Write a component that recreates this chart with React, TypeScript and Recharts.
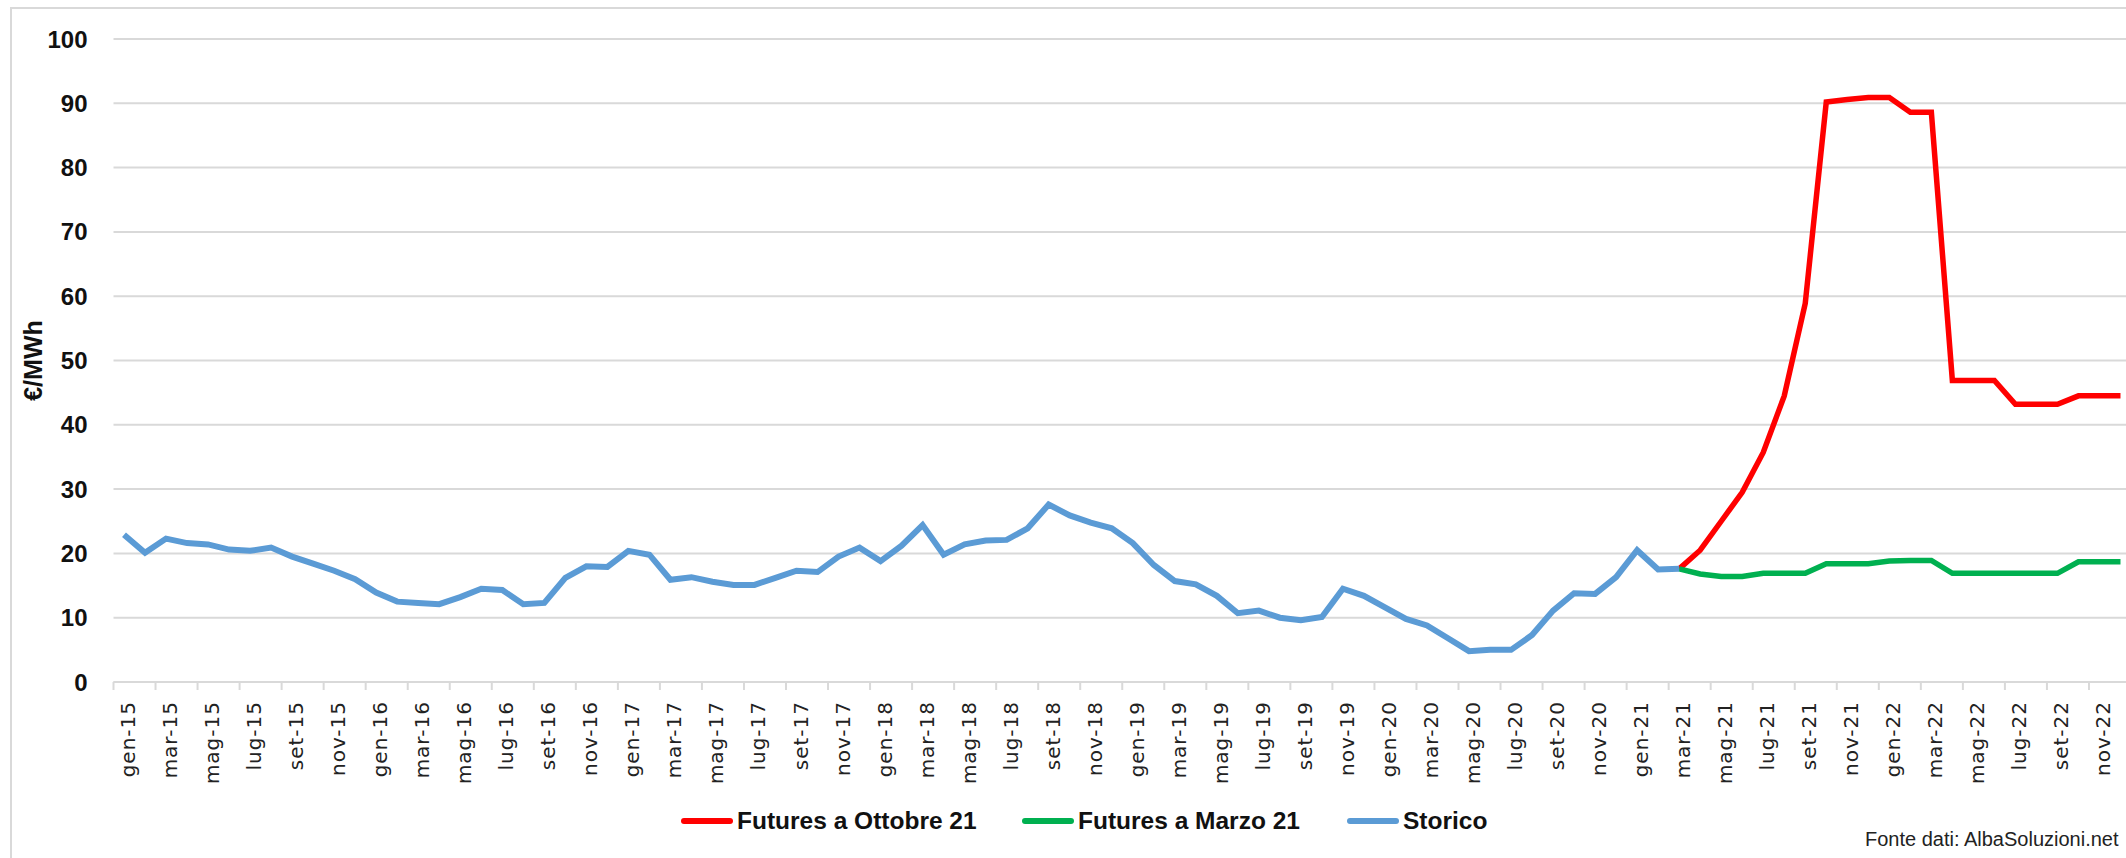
import { LineChart, Line, XAxis, YAxis, CartesianGrid } from "recharts"

const MESI = ["gen", "feb", "mar", "apr", "mag", "giu", "lug", "ago", "set", "ott", "nov", "dic"]
const ANNI = ["15", "16", "17", "18", "19", "20", "21", "22"]

// storico: gen-15 .. mar-21
const storico = [
  22.9, 20.1, 22.3, 21.6, 21.4, 20.6, 20.4, 20.9, 19.5, 18.4, 17.3, 16.0,
  13.9, 12.5, 12.3, 12.1, 13.2, 14.5, 14.3, 12.1, 12.3, 16.2, 18.0, 17.9,
  20.4, 19.8, 15.9, 16.3, 15.6, 15.1, 15.1, 16.2, 17.3, 17.1, 19.5, 20.9,
  18.8, 21.2, 24.4, 19.8, 21.4, 22.0, 22.1, 23.9, 27.6, 25.9, 24.8, 23.9,
  21.6, 18.2, 15.7, 15.2, 13.4, 10.7, 11.1, 10.0, 9.6, 10.1, 14.5, 13.4,
  11.6, 9.8, 8.8, 6.8, 4.8, 5.0, 5.0, 7.3, 11.1, 13.8, 13.7, 16.3,
  20.5, 17.5, 17.6,
]

// futures: mar-21 .. dic-22
const futuresOttobre = [
  17.6, 20.5, 25.0, 29.5, 35.7, 44.5, 58.9, 90.2, 90.6, 90.9, 90.9,
  88.6, 88.6, 46.9, 46.9, 46.9, 43.2, 43.2, 43.2, 44.5, 44.5, 44.5,
]
const futuresMarzo = [
  17.6, 16.8, 16.4, 16.4, 16.9, 16.9, 16.9, 18.4, 18.4, 18.4, 18.8,
  18.9, 18.9, 16.9, 16.9, 16.9, 16.9, 16.9, 16.9, 18.7, 18.7, 18.7,
]

const yTicks = [0, 10, 20, 30, 40, 50, 60, 70, 80, 90, 100]

const categorie = ANNI.flatMap((a) => MESI.map((m) => `${m}-${a}`))
const inizioFutures = storico.length - 1

const data = categorie.map((mese, i) => ({
  mese,
  storico: i < storico.length ? storico[i] : null,
  ottobre: i >= inizioFutures ? futuresOttobre[i - inizioFutures] : null,
  marzo: i >= inizioFutures ? futuresMarzo[i - inizioFutures] : null,
}))

const CHART_W = 2140
const CHART_H = 858
const MARGIN = { top: 39, right: 9, left: 0, bottom: 76 }
const Y_W = 113.5
const PLOT_W = CHART_W - MARGIN.right - MARGIN.left - Y_W
const HALF_BAND = PLOT_W / categorie.length / 2
const GRID = "#d9d9d9"

// eslint-disable-next-line @typescript-eslint/no-explicit-any
function MeseTick({ x, y, payload }: any) {
  const tx = x + 11
  const ty = y + 19
  return (
    <g>
      <line x1={x - HALF_BAND} x2={x - HALF_BAND} y1={y} y2={y + 8} stroke={GRID} strokeWidth={2} />
      <text
        x={tx}
        y={ty}
        transform={`rotate(-90 ${tx} ${ty})`}
        textAnchor="end"
        fontSize={20}
        letterSpacing={1}
        fontFamily="DejaVu Sans"
        fill="#222"
      >
        {payload.value}
      </text>
    </g>
  )
}

// eslint-disable-next-line @typescript-eslint/no-explicit-any
function YTitle({ viewBox }: any) {
  const cy = viewBox.y + viewBox.height / 2
  return (
    <text
      x={42}
      y={cy}
      transform={`rotate(-90 42 ${cy})`}
      textAnchor="middle"
      fontSize={25}
      fontWeight="bold"
      fontFamily="Liberation Sans"
      fill="#111"
    >
      €/MWh
    </text>
  )
}

const legenda = [
  { nome: "Futures a Ottobre 21", colore: "#ff0000", left: 681 },
  { nome: "Futures a Marzo 21", colore: "#00b050", left: 1022 },
  { nome: "Storico", colore: "#5b9bd5", left: 1347 },
]

export default function App() {
  return (
    <div
      style={{
        position: "fixed",
        top: 0,
        left: 0,
        width: 2126,
        height: 858,
        overflow: "hidden",
        background: "#fff",
        fontFamily: "Liberation Sans, Arial, sans-serif",
      }}
    >
      <div
        style={{
          position: "absolute",
          left: 10,
          top: 7,
          width: 2200,
          height: 900,
          borderLeft: `2px solid ${GRID}`,
          borderTop: `2px solid ${GRID}`,
        }}
      />
      <div style={{ position: "absolute", left: 0, top: 0 }}>
        <LineChart width={CHART_W} height={CHART_H} data={data} margin={MARGIN}>
          <CartesianGrid vertical={false} stroke={GRID} strokeWidth={2} />
          <XAxis
            dataKey="mese"
            interval={1}
            height={100}
            padding={{ left: HALF_BAND, right: HALF_BAND }}
            tickSize={0}
            tickMargin={0}
            tickLine={false}
            axisLine={{ stroke: GRID, strokeWidth: 2 }}
            tick={<MeseTick />}
          />
          <YAxis
            width={Y_W}
            domain={[0, 100]}
            ticks={yTicks}
            axisLine={false}
            tickLine={false}
            tickSize={0}
            tickMargin={26}
            tick={{ fontSize: 24, fontWeight: "bold", fill: "#111", fontFamily: "Liberation Sans" }}
            label={<YTitle />}
          />
          <Line
            type="linear"
            dataKey="ottobre"
            name="Futures a Ottobre 21"
            stroke="#ff0000"
            strokeWidth={5.5}
            dot={false}
            isAnimationActive={false}
          />
          <Line
            type="linear"
            dataKey="marzo"
            name="Futures a Marzo 21"
            stroke="#00b050"
            strokeWidth={5.5}
            dot={false}
            isAnimationActive={false}
          />
          <Line
            type="linear"
            dataKey="storico"
            name="Storico"
            stroke="#5b9bd5"
            strokeWidth={6}
            dot={false}
            isAnimationActive={false}
          />
        </LineChart>
      </div>
      {legenda.map((l) => (
        <div
          key={l.nome}
          style={{ position: "absolute", left: l.left, top: 806, display: "flex", alignItems: "center", height: 30 }}
        >
          <div style={{ width: 52, height: 6, borderRadius: 3, background: l.colore, marginRight: 4 }} />
          <span style={{ fontSize: 24.5, fontWeight: "bold", color: "#111" }}>{l.nome}</span>
        </div>
      ))}
      <div style={{ position: "absolute", left: 1865, top: 828, fontSize: 20, color: "#222" }}>
        Fonte dati: AlbaSoluzioni.net
      </div>
    </div>
  )
}
